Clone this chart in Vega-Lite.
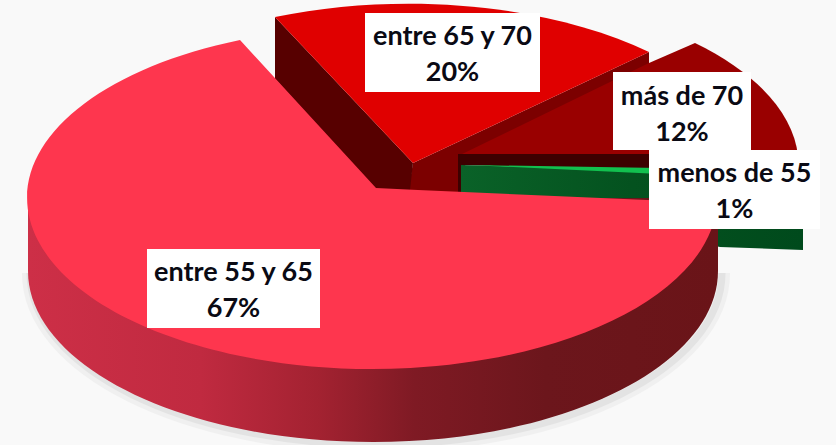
{
"$schema":"https://vega.github.io/schema/vega-lite/v6.json",
"width":836,"height":445,"padding":0,
"autosize":{"type":"none"},
"background":"#f9f9f9",
"view":{"stroke":null},
"config":{"point":{"opacity":1,"size":4,"filled":true,"strokeWidth":0},"text":{"font":"Lato","fontWeight":"bold","fontSize":27,"color":"#0a0a14","baseline":"alphabetic","align":"center"}},
"data":{"values":[
{"rango":"entre 55 y 65","pct":0.67},
{"rango":"entre 65 y 70","pct":0.20},
{"rango":"más de 70","pct":0.12},
{"rango":"menos de 55","pct":0.01}
]},
"encoding":{
"x":{"datum":0,"type":"quantitative","scale":{"domain":[0,836],"range":[0,836]},"axis":null},
"y":{"datum":0,"type":"quantitative","scale":{"domain":[0,445],"range":[0,445]},"axis":null}
},
"layer":[
{"transform":[{"filter":"datum.rango==='entre 55 y 65'"}],"mark":{"type":"point","filled":false,"opacity":0.05,"stroke":"#555555","strokeWidth":16,"size":4,"shape":"M30,273 A345,171 0 0 0 722,273"}},
{"transform":[{"filter":"datum.rango==='entre 55 y 65'"}],"mark":{"type":"point","filled":false,"opacity":0.08,"stroke":"#555555","strokeWidth":7,"size":4,"shape":"M30,273 A345,171 0 0 0 722,273"}},
{"transform":[{"filter":"datum.rango==='más de 70'"}],"mark":{"type":"point","fill":"#7c0000","size":4,"opacity":1,"filled":true,"shape":"M413,163 L649,52 L649,64 L468,155 L458,192 L408,192 Z"}},
{"transform":[{"filter":"datum.rango==='más de 70'"}],"mark":{"type":"point","fill":"#990000","size":4,"opacity":1,"filled":true,"shape":"M458,156 L649,63 L695,43 A345,171 0 0 1 798,156 Z"}},
{"transform":[{"filter":"datum.rango==='entre 65 y 70'"}],"mark":{"type":"point","fill":"#570000","size":4,"opacity":1,"filled":true,"shape":"M275,17 L413,163 L410,190 L376,190 L275,79 Z"}},
{"transform":[{"filter":"datum.rango==='entre 65 y 70'"}],"mark":{"type":"point","fill":"#e00000","size":4,"opacity":1,"filled":true,"shape":"M275,17 A345,171 0 0 1 649,52 L413,163 Z"}},
{"transform":[{"filter":"datum.rango==='menos de 55'"}],"mark":{"type":"point","fill":"#3d0000","size":4,"opacity":1,"filled":true,"shape":"M458,154 L800,154 L800,176 L461,165 L461,192 L458,192 Z"}},
{"transform":[{"filter":"datum.rango==='menos de 55'"}],"mark":{"type":"point","fill":{"gradient":"linear","x1":0,"x2":1,"y1":0,"y2":0,"stops":[{"offset":0,"color":"#0a6228"},{"offset":0.5,"color":"#04521f"},{"offset":1,"color":"#004a1c"}]},"size":4,"opacity":1,"filled":true,"shape":"M461,165 L803,174 L803,250 L720,247 L461,192 Z"}},
{"transform":[{"filter":"datum.rango==='menos de 55'"}],"mark":{"type":"point","fill":"#12c04f","size":4,"opacity":1,"filled":true,"shape":"M470,165 L660,168 L660,174 Z"}},
{"transform":[{"filter":"datum.rango==='entre 55 y 65'"}],"mark":{"type":"point","fill":{"gradient":"linear","x1":0,"x2":1,"y1":0,"y2":0,"stops":[{"offset":0,"color":"#cd2f47"},{"offset":0.25,"color":"#c02a40"},{"offset":0.42,"color":"#a32231"},{"offset":0.56,"color":"#7f1a24"},{"offset":0.75,"color":"#6c161c"},{"offset":1,"color":"#6a1418"}]},"size":4,"opacity":1,"filled":true,"shape":"M28,198 L28,271 A345,171 0 0 0 718,271 L718,198 Z"}},
{"transform":[{"filter":"datum.rango==='entre 55 y 65'"}],"mark":{"type":"point","fill":"#fe364e","size":4,"opacity":1,"filled":true,"shape":"M376,188 L240,40 A345,171 0 1 0 717,203 L418,190 Z"}},
{"mark":{"type":"point","fill":"#ffffff","size":4,"opacity":1,"filled":true},
"encoding":{
"shape":{"field":"rango","type":"nominal","legend":null,"scale":{"domain":["entre 55 y 65","entre 65 y 70","más de 70","menos de 55"],"range":["M147,249 L320,249 L320,328 L147,328 Z","M365,13 L540,13 L540,92 L365,92 Z","M613,72 L751,72 L751,150 L613,150 Z","M649,150 L820,150 L820,229 L649,229 Z"]}}
}},
{"transform":[{"filter":"datum.rango==='más de 70'"}],
"encoding":{"x":{"datum":682,"type":"quantitative"},"y":{"datum":111,"type":"quantitative"}},
"layer":[
{"mark":{"type":"text","dy":-6},"encoding":{"text":{"field":"rango","type":"nominal"}}},
{"mark":{"type":"text","dy":30},"encoding":{"text":{"field":"pct","type":"quantitative","format":".0%"}}}
]},
{"transform":[{"filter":"datum.rango==='entre 55 y 65'"}],
"encoding":{"x":{"datum":233.5,"type":"quantitative"},"y":{"datum":288.5,"type":"quantitative"}},
"layer":[
{"mark":{"type":"text","dy":-8},"encoding":{"text":{"field":"rango","type":"nominal"}}},
{"mark":{"type":"text","dy":28},"encoding":{"text":{"field":"pct","type":"quantitative","format":".0%"}}}
]},
{"transform":[{"filter":"datum.rango==='entre 65 y 70'"}],
"encoding":{"x":{"datum":452.5,"type":"quantitative"},"y":{"datum":52.5,"type":"quantitative"}},
"layer":[
{"mark":{"type":"text","dy":-8},"encoding":{"text":{"field":"rango","type":"nominal"}}},
{"mark":{"type":"text","dy":28},"encoding":{"text":{"field":"pct","type":"quantitative","format":".0%"}}}
]},
{"transform":[{"filter":"datum.rango==='menos de 55'"}],
"encoding":{"x":{"datum":734.5,"type":"quantitative"},"y":{"datum":189.5,"type":"quantitative"}},
"layer":[
{"mark":{"type":"text","dy":-8},"encoding":{"text":{"field":"rango","type":"nominal"}}},
{"mark":{"type":"text","dy":28},"encoding":{"text":{"field":"pct","type":"quantitative","format":".0%"}}}
]}
]
}
